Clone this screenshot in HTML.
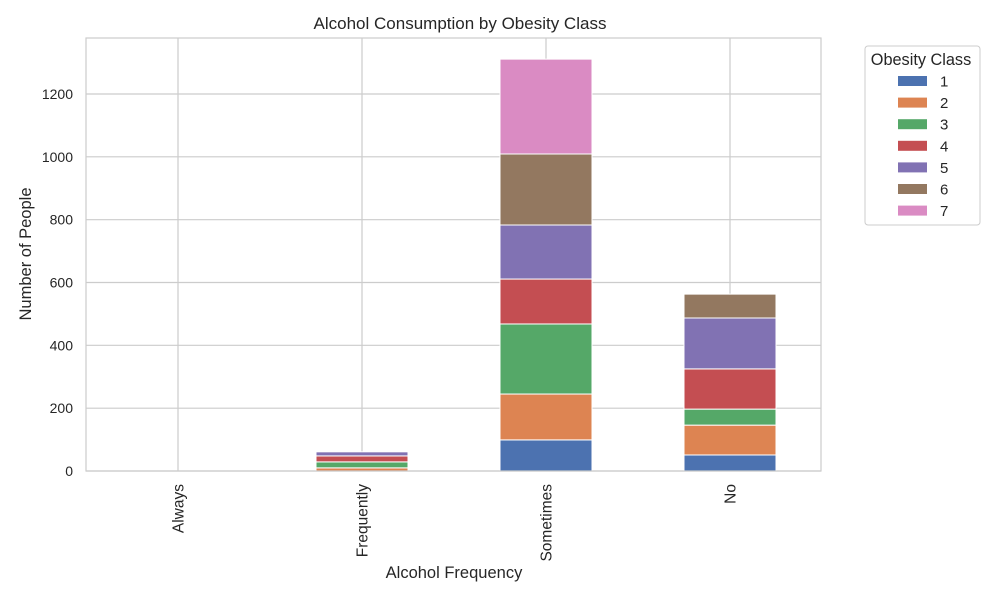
<!DOCTYPE html>
<html><head><meta charset="utf-8"><style>
body{margin:0;background:#fff;font-family:"Liberation Sans","DejaVu Sans",sans-serif;}
</style></head><body>
<svg id="chart" width="1000" height="600" xmlns="http://www.w3.org/2000/svg" font-family="Liberation Sans, DejaVu Sans, sans-serif">
<rect width="1000" height="600" fill="#fff"/>
<g id="grid"></g>
<g id="bars"></g>
<rect x="86" y="38" width="735" height="433" fill="none" stroke="#ccc" stroke-width="1.2"/>
<g id="ticks" font-size="14" fill="#262626"></g>
<text x="460" y="29" text-anchor="middle" font-size="17" fill="#262626">Alcohol Consumption by Obesity Class</text>
<text x="454" y="578" text-anchor="middle" font-size="16.5" fill="#262626">Alcohol Frequency</text>
<text transform="translate(31,254) rotate(-90)" text-anchor="middle" font-size="16.5" fill="#262626">Number of People</text>
<g id="legend">
<rect x="865" y="46" width="115" height="179" rx="3" fill="#fff" stroke="#ccc"/>
<text x="921" y="65" text-anchor="middle" font-size="16.3" fill="#262626">Obesity Class</text>
</g>
</svg>
<script>
const categories=["Always","Frequently","Sometimes","No"];
const classes=["1","2","3","4","5","6","7"];
const colors=["#4c72b0","#dd8452","#55a868","#c44e52","#8172b3","#937860","#da8bc3"];
const s1=[0,0,99,51];
const s2=[0,10,146,95];
const s3=[0,19,223,51];
const s4=[0,19,143,128];
const s5=[0,13,172,162];
const s6=[0,0,226,76];
const s7=[0,0,302,0];
const series=[s1,s2,s3,s4,s5,s6,s7];
const yTicks=[0,200,400,600,800,1000,1200];
const NS="http://www.w3.org/2000/svg";
const y=v=>471-v*(377/1200);
const x=i=>178+i*184;
const bw=92;
const grid=document.getElementById('grid'),bars=document.getElementById('bars'),ticks=document.getElementById('ticks'),legend=document.getElementById('legend');
function mk(t,a,p){const e=document.createElementNS(NS,t);for(const k in a)e.setAttribute(k,a[k]);p.appendChild(e);return e;}
yTicks.forEach(v=>{
 const l=mk('line',{x1:86,x2:821,y1:y(v),y2:y(v),stroke:'#ccc','stroke-width':1.2},grid);
 
 
 const t=mk('text',{x:73,y:y(v)+5,'text-anchor':'end'},ticks);t.textContent=v;
 
 
});
categories.forEach((c,i)=>{
 const l=mk('line',{x1:x(i),x2:x(i),y1:38,y2:471,stroke:'#ccc','stroke-width':1.2},grid);
 
 
 const t=mk('text',{transform:`translate(${x(i)+5.5},484) rotate(-90)`,'text-anchor':'end','font-size':15.5},ticks);t.textContent=c;
 
 
 let cum=0;
 series.forEach((s,k)=>{
  const v=s[i];if(v>0){
   const r=mk('rect',{x:x(i)-bw/2,y:y(cum+v),width:bw,height:y(cum)-y(cum+v),fill:colors[k],stroke:'#fff','stroke-width':1},bars);
   
   
  }
  cum+=v;
 });
});
classes.forEach((c,k)=>{
 const cy=81+k*21.6;
 const r=mk('rect',{x:898,y:cy-5,width:29,height:10,fill:colors[k]},legend);
 
 
 const t=mk('text',{x:940,y:cy+5.5,'font-size':15,fill:'#262626'},legend);t.textContent=c;
 
 
});
</script>
</body></html>
